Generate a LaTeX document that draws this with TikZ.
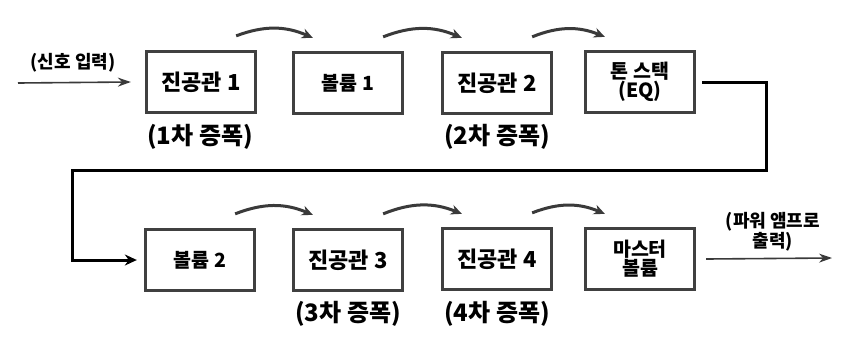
\documentclass[tikz,border=0pt]{standalone}
\usepackage{fontspec}
\setmainfont{Noto Sans CJK KR}[BoldFont={Noto Sans CJK KR Black}]
\usetikzlibrary{arrows.meta}
\definecolor{boxgray}{HTML}{404040}
\definecolor{arrgray}{HTML}{3A3A3A}
\tikzset{
  stagebox/.style={draw=boxgray, line width=3.3pt, fill=white, minimum width=109pt, minimum height=61pt, inner sep=0pt, align=center, font=\bfseries\fontsize{22}{23}\selectfont},
  smallbox/.style={stagebox, font=\bfseries\fontsize{19.5}{19}\selectfont},
  lbl/.style={font=\bfseries\fontsize{24}{25}\selectfont, text=black},
  sidelbl/.style={font=\bfseries\fontsize{18}{18}\selectfont, align=center, text=black},
  hop/.style={draw=arrgray, line width=3pt, -{Stealth[length=11pt,width=10pt]}},
  thin/.style={draw=arrgray, line width=1.6pt, -{Stealth[length=13pt,width=9pt]}},
  fb/.style={draw=black, line width=3pt, -{Stealth[length=12pt,width=11pt]}}
}
\begin{document}
\begin{tikzpicture}[x=1pt,y=-1pt]
\useasboundingbox[fill=white] (0,0) rectangle (850,349);
% top row
\node[stagebox] (b1) at (201,82) {진공관 1};
\node[smallbox] (b2) at (348,83) {볼륨 1};
\node[stagebox] (b3) at (497,83) {진공관 2};
\node[smallbox] (b4) at (640,82) {톤 스택\\(EQ)};
% bottom row
\node[smallbox] (b5) at (200,260) {볼륨 2};
\node[stagebox] (b6) at (348,260) {진공관 3};
\node[stagebox] (b7) at (497,259) {진공관 4};
\node[smallbox] (b8) at (640,259) {마스터\\볼륨};
% labels
\node[lbl] (l1) at (200,137) {(1차 증폭)};
\node[lbl] (l2) at (497,137) {(2차 증폭)};
\node[lbl] (l3) at (348,314) {(3차 증폭)};
\node[lbl] (l4) at (497,314) {(4차 증폭)};
\node[sidelbl] (lin) at (73,63) {(신호 입력)};
\node[sidelbl] (lout) at (773,232) {(파워 앰프로\\출력)};
% input / output
\coordinate (in) at (18,83);
\draw[thin] (in) -- ([xshift=-14pt]b1.west);
\coordinate (out) at (832,258);
\draw[thin] ([xshift=10pt]b8.east) -- (out);
% hops
\foreach \a/\b in {b1/b2,b2/b3,b3/b4,b5/b6,b6/b7,b7/b8}{
  \draw[hop] ([xshift=-21pt,yshift=14pt]\a.north east) to[bend left=22] ([xshift=21pt,yshift=13pt]\b.north west);
}
% feedback
\coordinate (fr) at (766,170);
\coordinate (fl) at (72,170);
\draw[fb] ([xshift=6pt]b4.east) -| (fr) -- (fl) |- ([xshift=-7pt]b5.west);
\end{tikzpicture}
\end{document}
